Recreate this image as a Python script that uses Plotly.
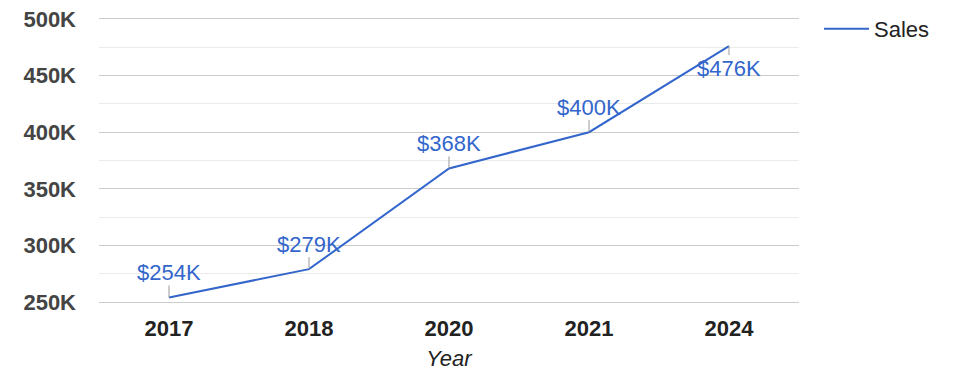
import plotly.graph_objects as go

years = ["2017", "2018", "2020", "2021", "2024"]
sales = [254000, 279000, 368000, 400000, 476000]
labels = ["$254K", "$279K", "$368K", "$400K", "$476K"]
label_offsets = [-25, -25, -25, -25, 22]
ytick_vals = [250000, 300000, 350000, 400000, 450000, 500000]
ytick_text = ["250K", "300K", "350K", "400K", "450K", "500K"]

FONT = "Arial, Liberation Sans, sans-serif"
BLUE = "#3366CC"

fig = go.Figure()
fig.add_trace(go.Scatter(
    x=years, y=sales, mode="lines", name="Sales",
    line=dict(color=BLUE, width=2),
    hoverinfo="skip",
))

for i, (y, t, off) in enumerate(zip(sales, labels, label_offsets)):
    fig.add_annotation(
        x=i, y=y, text=t, showarrow=True, arrowhead=0, arrowwidth=1,
        arrowcolor="#999999", ax=0, ay=off, standoff=0,
        font=dict(family=FONT, size=22, color=BLUE),
        borderpad=0,
    )

fig.update_layout(
    width=975, height=378,
    margin=dict(l=99, r=176, t=19, b=76, autoexpand=False),
    paper_bgcolor="white", plot_bgcolor="white",
    showlegend=True,
    legend=dict(x=(819 - 99) / 700, y=(302 - 29) / 283,
                xanchor="left", yanchor="middle",
                itemwidth=45,
                font=dict(family=FONT, size=22, color="#222222"),
                bgcolor="rgba(0,0,0,0)"),
    font=dict(family=FONT),
)

fig.update_xaxes(
    type="category", range=[-0.5, 4.5],
    showgrid=False, zeroline=False,
    showline=True, linecolor="#cccccc", linewidth=1, mirror=True,
    tickfont=dict(family=FONT, size=22, color="#222222", weight="bold"),
    ticks="", ticklabelstandoff=7,
    title=dict(text="<i>Year</i>", font=dict(family=FONT, size=22, color="#222222"), standoff=10),
)

fig.update_yaxes(
    range=[250000, 500000],
    tickvals=ytick_vals, ticktext=ytick_text,
    showgrid=True, gridcolor="#cccccc", gridwidth=1,
    zeroline=False, showline=False,
    minor=dict(dtick=25000, tick0=250000, showgrid=True, gridcolor="#ebebeb", gridwidth=1),
    tickfont=dict(family=FONT, size=22, color="#444444", weight="bold"),
    ticks="", ticklabelstandoff=22,
)

fig.write_html("out.html", config={"displayModeBar": False},
               post_script="document.body.style.margin='0';document.body.style.overflow='hidden';")
